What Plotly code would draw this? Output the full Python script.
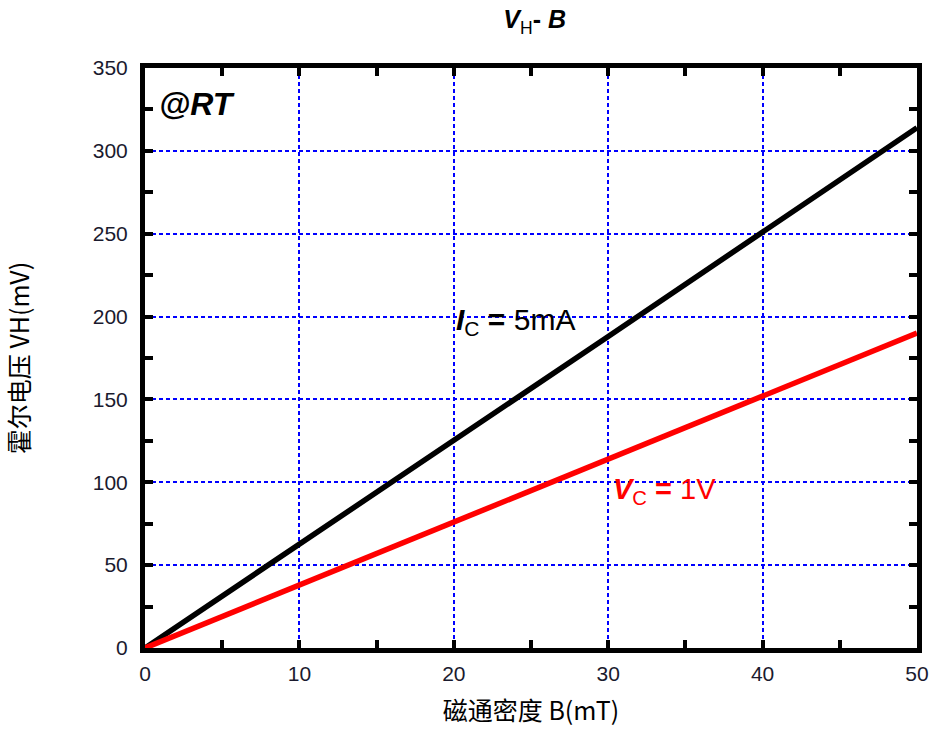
import plotly.graph_objects as go

B = [0, 10, 20, 30, 40, 50]
vh_ic = [0, 62.5, 125.5, 188, 251, 314]
vh_vc = [0, 38, 76, 114, 152, 190]
x_ticks = [0, 10, 20, 30, 40, 50]
y_ticks = [0, 50, 100, 150, 200, 250, 300, 350]
x_minor = [5, 15, 25, 35, 45]
y_minor = [25, 75, 125, 175, 225, 275, 325]

fig = go.Figure()
fig.add_trace(go.Scatter(x=B, y=vh_ic, mode="lines", line=dict(color="black", width=5.5), showlegend=False))
fig.add_trace(go.Scatter(x=B, y=vh_vc, mode="lines", line=dict(color="#ff0000", width=5.5), showlegend=False))
# invisible trace to activate the minor-tick overlay axes
fig.add_trace(go.Scatter(x=[B[0]], y=[vh_ic[0]], mode="markers", marker=dict(opacity=0),
                         xaxis="x2", yaxis="y2", showlegend=False, hoverinfo="skip"))

axis_common = dict(
    showline=True, linecolor="black", linewidth=5, mirror="allticks",
    ticks="inside", ticklen=8, tickwidth=4, tickcolor="black",
    showgrid=True, gridcolor="#0000ff", griddash="4px,3px", gridwidth=1.6,
    zeroline=False, automargin=False,
    tickfont=dict(family="Liberation Sans, Arial", size=21, color="#1a1a2e"),
)

minor_common = dict(
    showline=False, mirror="allticks", ticks="inside", ticklen=8, tickwidth=4,
    tickcolor="black", showgrid=False, zeroline=False, showticklabels=False,
    automargin=False,
)

fig.update_layout(
    width=938, height=732,
    margin=dict(l=145, r=21, t=68, b=84),
    plot_bgcolor="white", paper_bgcolor="white",
    xaxis=dict(range=[0, 50], tickvals=x_ticks, ticklabelstandoff=3,
               title=dict(text="磁通密度 B(mT)", font=dict(family="Noto Sans CJK SC", size=25, color="black"), standoff=20),
               **axis_common),
    yaxis=dict(range=[0, 350], tickvals=y_ticks, ticklabelstandoff=8,
               title=dict(text="霍尔电压 VH(mV)", font=dict(family="Noto Sans CJK SC", size=25, color="black"), standoff=58),
               **axis_common),
    xaxis2=dict(range=[0, 50], tickvals=x_minor, overlaying="x", anchor="y2", **minor_common),
    yaxis2=dict(range=[0, 350], tickvals=y_minor, overlaying="y", anchor="x2", **minor_common),
    title=dict(text="<b><i>V</i></b><sub>H</sub><b>- <i>B</i></b>", x=0.570, xanchor="center",
               y=0.985, yanchor="top",
               font=dict(family="Liberation Sans, Arial", size=25, color="black")),
    annotations=[
        dict(x=0.015, y=0.938, xref="paper", yref="paper", xanchor="left", yanchor="middle",
             text="<b><i>@RT</i></b>", showarrow=False,
             font=dict(family="Liberation Sans, Arial", size=32, color="black")),
        dict(x=20.0, y=197, xref="x", yref="y", xanchor="left", yanchor="middle",
             text="<b><i>I</i></b><sub>C</sub> <b>=</b> 5mA", showarrow=False,
             font=dict(family="Liberation Sans, Arial", size=30, color="black")),
        dict(x=30.2, y=95, xref="x", yref="y", xanchor="left", yanchor="middle",
             text="<b><i>V</i></b><sub>C</sub> <b>=</b> 1V", showarrow=False,
             font=dict(family="Liberation Sans, Arial", size=29, color="#ff0000")),
    ],
)

fig.write_html("out.html", config={"displayModeBar": False},
               post_script="document.body.style.margin='0';document.body.style.overflow='hidden';")
